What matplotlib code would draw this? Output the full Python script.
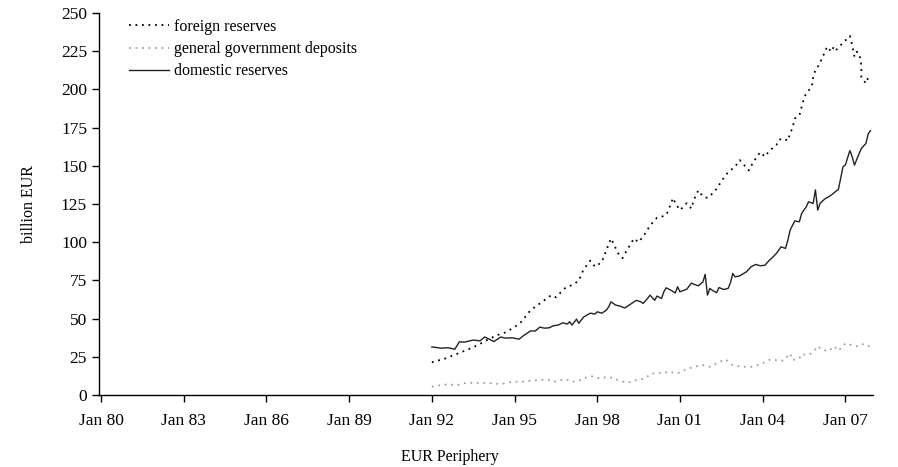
import numpy as np
import matplotlib.pyplot as plt

# months counted from Jan 1980 (0 = Jan 80)
foreign_m = [144, 150, 155, 160, 164, 168, 172, 176, 180, 183, 187, 192,
             196, 198, 202, 205, 208, 210, 212, 213, 215, 218, 220, 222, 223, 225, 227,
             229, 232, 234, 237, 239, 242, 244, 246, 247, 249, 250, 252, 255, 257, 258,
             260, 262, 264, 267, 269, 271, 273, 276, 278, 280, 282, 284, 287, 289, 291,
             294, 295, 297, 299, 300, 301, 302, 304, 305, 306, 307, 309, 310, 310, 311,
             313, 314, 315, 316, 318, 319, 320, 322, 324, 326, 327, 328, 329, 330, 331,
             331, 333, 334, 335]
foreign = [21.5, 24, 27, 30, 32.7, 36, 39, 41, 44.5, 48, 55.6, 61,
           65.4, 64, 70, 72, 74.8, 82, 86, 88, 84, 87, 95, 102.5, 99.5, 93, 89.6,
           95, 102.5, 100, 106, 111, 116, 116.7, 117.8, 121, 129, 125.6, 121, 125.6, 122, 127.6,
           134, 130, 129, 133, 137.4, 142, 146, 149.4, 153.8, 150.5, 147, 152.7, 159, 156, 160,
           163.6, 167, 168, 166.4, 171.4, 174.7, 181, 183, 188.7, 194, 197.6, 201, 205, 208, 212.7,
           217, 221.5, 223.6, 228, 224.7, 228, 225.8, 229, 232, 235, 229, 221.5, 224.7, 223.6, 216,
           208, 204, 208, 207]

domestic_m = [144, 148, 151, 154, 156, 158, 162, 165, 167, 169, 171, 174, 176, 179, 182,
              184, 187, 189, 191, 193, 195, 197, 199, 201, 203, 204, 205, 207, 208, 210,
              213, 215, 216, 218, 220, 221, 222, 224, 226, 228, 231, 233, 235, 236, 238,
              239, 241, 242, 244, 245, 246, 248, 250, 251, 252, 255, 257, 258, 260, 262,
              263, 264, 265, 266, 268, 269, 271, 273, 274, 275, 276, 278, 281, 283, 285,
              287, 289, 291, 292, 294, 296, 298, 299, 300, 302, 304, 305, 307, 308, 310,
              311, 312, 313, 315, 317, 318, 320, 321, 323, 324, 326, 327, 328, 330, 331,
              333, 334, 335]
domestic = [31.5, 30.7, 31, 30, 34.9, 34.6, 36, 35.5, 38, 36.6, 35, 38, 37.3, 37.5, 36.6,
            39, 42, 41.9, 44.5, 43.8, 44, 45.4, 45.8, 47.3, 46.5, 48, 45.8, 49.7, 47, 51,
            53.6, 53, 54.5, 53.6, 55.6, 57.8, 61, 58.9, 58.2, 57, 60, 62, 61, 60, 63.4,
            65.4, 62, 64.8, 63.2, 67.6, 70.2, 68.7, 66.8, 70.9, 67.6, 69.3, 73.3, 72.6, 71.5, 74,
            79, 65.4, 69.8, 68.7, 67, 70.4, 69.1, 69.8, 73.5, 79.6, 77.4, 78, 80.7, 84, 85.5,
            84.6, 85, 88.3, 89.6, 92.7, 97, 96, 101.4, 108, 114, 113.4, 118.9, 123.2, 126.5, 125.4,
            134.3, 121, 125.4, 128.3, 130, 131, 133.5, 134.6, 149.4, 150.5, 160, 156, 150.5, 158, 161.4,
            164.7, 171.2, 173]

govt_m = [144, 148, 151, 155, 159, 163, 167, 171, 174, 179, 183, 187, 192, 195, 197,
          202, 205, 208, 213, 217, 221, 225, 229, 233, 237, 239, 242, 245, 247, 251,
          254, 258, 262, 265, 268, 271, 272, 275, 279, 283, 287, 291, 294, 297, 299,
          300, 301, 304, 305, 308, 310, 312, 314, 317, 319, 321, 324, 327, 329, 331,
          334, 335]
govt = [5.5, 6.5, 7, 6.5, 8, 8, 8, 7.6, 7.2, 8.7, 8.7, 9.4, 10, 9.8, 8.7,
        10.5, 8.7, 9.4, 12.6, 10.9, 12, 9.8, 8, 9.8, 10.9, 13.7, 14.6, 14.2, 15.3, 14.2,
        16.4, 18.5, 19.6, 18.5, 20.7, 22.9, 23.3, 19.6, 18.5, 18.5, 20.1, 23.1, 22.9, 22.5, 25.7,
        27.2, 22.9, 24, 26.8, 26.2, 28.3, 32, 29.4, 29, 32, 29, 33.8, 32.7, 32, 33.4,
        32.7, 29]

tick_labels = ["Jan 80", "Jan 83", "Jan 86", "Jan 89", "Jan 92",
               "Jan 95", "Jan 98", "Jan 01", "Jan 04", "Jan 07"]

plt.rcParams['font.family'] = ['Liberation Serif', 'DejaVu Serif']

fig = plt.figure(figsize=(8.98, 4.67), dpi=100)
ax = fig.add_axes([0.110, 0.154, 0.862, 0.818])

# dotted series
ax.plot(foreign_m, foreign, color="black", linestyle=(0, (1.0, 2.6)), linewidth=1.3,
        label="foreign reserves")
ax.plot(govt_m, govt, color="#a0a0a0", linestyle=(0, (1.0, 2.6)), linewidth=1.3,
        label="general government deposits")
ax.plot(domestic_m, domestic, color="#222222", linestyle="-", linewidth=1.0,
        label="domestic reserves")

ax.set_xlim(-1, 336)
ax.set_ylim(0, 250)
ax.set_yticks(np.arange(0, 251, 25))
ax.set_xticks(np.arange(0, 325, 36))
ax.set_xticklabels(tick_labels)
ax.tick_params(labelsize=12.5, direction="out", length=5, width=1)
ax.tick_params(axis="x", pad=8)

for s in ["top", "right"]:
    ax.spines[s].set_visible(False)
for s in ["left", "bottom"]:
    ax.spines[s].set_linewidth(1.0)

ax.set_ylabel("billion EUR", fontsize=11.5)
ax.yaxis.set_label_coords(-0.08, 0.5)
ax.set_xlabel("EUR Periphery", fontsize=11.5)
ax.xaxis.set_label_coords(0.453, -0.14)

ax.legend(loc="upper left", bbox_to_anchor=(0.02, 1.022), frameon=False, fontsize=11.5,
          handlelength=2.5, handletextpad=0.35, labelspacing=0.38)

plt.savefig("out.png", dpi=100)
